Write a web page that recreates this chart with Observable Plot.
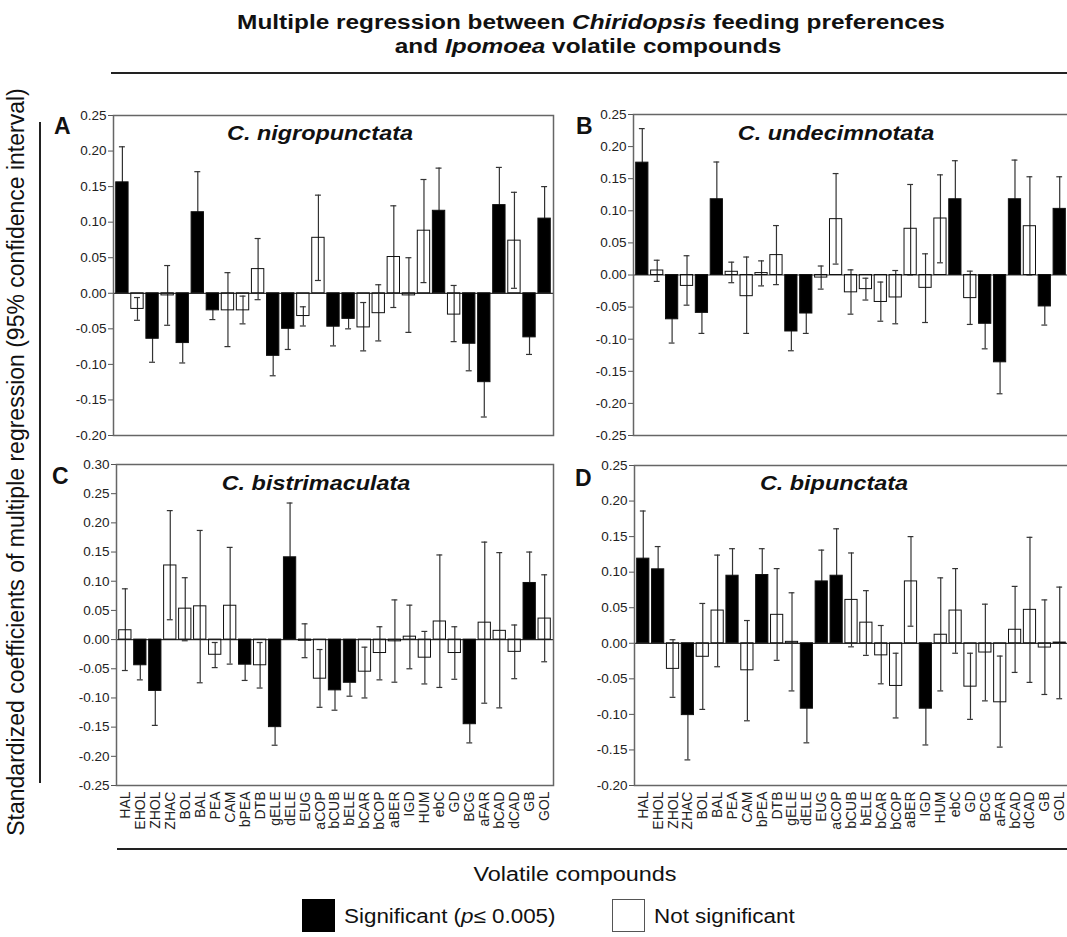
<!DOCTYPE html>
<html>
<head>
<meta charset="utf-8">
<script src="https://cdn.jsdelivr.net/npm/d3@7"></script>
<script src="https://cdn.jsdelivr.net/npm/@observablehq/plot@0.6"></script>
<style>
  html, body { margin: 0; padding: 0; background: #fff; overflow: hidden; }
  #root { position: relative; width: 1067px; height: 937px; overflow: hidden; background: #fff;
          font-family: "Liberation Sans", Arial, sans-serif; color: #111; }
  .abs { position: absolute; white-space: nowrap; line-height: 1; }
  .hline { position: absolute; background: #222; }
  .panel { position: absolute; }
  .panel svg { max-width: none !important; display: block; }
</style>
</head>
<body>
<div id="root"></div>
<script>
// ---- data ----
const compounds = ["HAL","EHOL","ZHOL","ZHAC","BOL","BAL","PEA","CAM","bPEA","DTB","gELE","dELE","EUG","aCOP","bCUB","bELE","bCAR","bCOP","aBER","IGD","HUM","ebC","GD","BCG","aFAR","bCAD","dCAD","GB","GOL"];

// A: C. nigropunctata
const coefA = [0.156,-0.022,-0.064,-0.003,-0.070,0.114,-0.024,-0.024,-0.024,0.034,-0.088,-0.050,-0.032,0.078,-0.047,-0.036,-0.048,-0.028,0.051,-0.003,0.088,0.116,-0.030,-0.071,-0.125,0.124,0.074,-0.062,0.105];
const hiA   = [0.206,-0.006,-0.031,0.039,-0.042,0.171,-0.010,0.029,-0.004,0.077,-0.060,-0.021,-0.019,0.138,-0.020,-0.022,-0.013,0.012,0.123,0.050,0.160,0.176,0.011,-0.033,-0.076,0.177,0.142,-0.038,0.150];
const loA   = [0.106,-0.038,-0.097,-0.045,-0.098,0.057,-0.037,-0.075,-0.043,-0.009,-0.116,-0.079,-0.046,0.018,-0.074,-0.050,-0.081,-0.067,-0.020,-0.055,0.015,0.056,-0.068,-0.109,-0.174,0.071,0.007,-0.086,0.060];
const sigA  = [1,0,1,0,1,1,1,0,0,0,1,1,0,0,1,1,0,0,0,0,0,1,0,1,1,1,0,1,1];

// B: C. undecimnotata
const coefB = [0.175,0.007,-0.069,-0.017,-0.059,0.118,0.005,-0.033,0.003,0.031,-0.088,-0.060,-0.004,0.087,-0.027,-0.022,-0.042,-0.035,0.072,-0.020,0.088,0.118,-0.036,-0.076,-0.136,0.118,0.076,-0.049,0.103];
const hiB   = [0.228,0.023,-0.032,0.030,-0.027,0.176,0.020,0.028,0.022,0.077,-0.058,-0.029,0.014,0.158,0.008,-0.005,-0.011,0.007,0.141,0.033,0.156,0.178,0.006,-0.037,-0.087,0.179,0.153,-0.020,0.153];
const loB   = [0.122,-0.010,-0.106,-0.047,-0.091,0.060,-0.012,-0.091,-0.017,-0.015,-0.118,-0.091,-0.022,0.017,-0.061,-0.039,-0.072,-0.076,0.000,-0.074,0.019,0.058,-0.077,-0.115,-0.185,0.057,0.000,-0.078,0.053];
const sigB  = [1,0,1,0,1,1,0,0,0,0,1,1,0,0,0,0,0,0,0,0,0,1,0,1,1,1,0,1,1];

// C: C. bistrimaculata
const coefC = [0.016,-0.044,-0.088,0.127,0.053,0.057,-0.026,0.058,-0.043,-0.044,-0.150,0.141,-0.002,-0.067,-0.087,-0.074,-0.055,-0.023,-0.003,0.005,-0.031,0.031,-0.023,-0.145,0.029,0.015,-0.021,0.097,0.036];
const hiC   = [0.087,-0.019,-0.029,0.221,0.106,0.187,-0.005,0.158,-0.016,-0.005,-0.119,0.234,0.027,-0.017,-0.053,-0.051,-0.013,0.022,0.068,0.059,0.014,0.145,0.022,-0.113,0.167,0.149,0.025,0.150,0.111];
const loC   = [-0.053,-0.069,-0.147,0.034,-0.002,-0.074,-0.048,-0.042,-0.070,-0.083,-0.181,0.048,-0.031,-0.116,-0.121,-0.097,-0.100,-0.069,-0.073,-0.050,-0.076,-0.082,-0.068,-0.177,-0.109,-0.117,-0.067,0.044,-0.038];
const sigC  = [0,1,1,0,0,0,0,0,1,0,1,1,0,0,1,1,0,0,0,0,0,0,0,1,0,0,0,1,0];

// D: C. bipunctata
const coefD = [0.119,0.104,-0.036,-0.101,-0.019,0.046,0.095,-0.038,0.096,0.040,0.002,-0.092,0.087,0.095,0.061,0.029,-0.017,-0.060,0.087,-0.092,0.012,0.046,-0.061,-0.013,-0.083,0.019,0.047,-0.006,0.001];
const hiD   = [0.186,0.136,0.005,-0.038,0.056,0.124,0.133,0.032,0.133,0.105,0.071,-0.044,0.131,0.161,0.127,0.074,0.025,-0.014,0.150,-0.041,0.092,0.105,-0.014,0.055,-0.018,0.080,0.149,0.061,0.079];
const loD   = [0.052,0.072,-0.076,-0.164,-0.093,-0.033,0.057,-0.109,0.059,-0.024,-0.067,-0.140,0.043,0.029,-0.005,-0.017,-0.057,-0.105,0.024,-0.143,-0.067,-0.014,-0.107,-0.081,-0.146,-0.041,-0.055,-0.072,-0.078];
const sigD  = [1,1,0,1,0,0,1,0,1,0,0,1,1,1,0,0,0,0,0,1,0,0,0,0,0,0,0,0,0];

const ticksA = [-0.20,-0.15,-0.10,-0.05,0.00,0.05,0.10,0.15,0.20,0.25];
const ticksB = [-0.25,-0.20,-0.15,-0.10,-0.05,0.00,0.05,0.10,0.15,0.20,0.25];
const ticksC = [-0.25,-0.20,-0.15,-0.10,-0.05,0.00,0.05,0.10,0.15,0.20,0.25,0.30];
const ticksD = [-0.20,-0.15,-0.10,-0.05,0.00,0.05,0.10,0.15,0.20,0.25];

const panelTitles = ["C. nigropunctata","C. undecimnotata","C. bistrimaculata","C. bipunctata"];
const panelLetters = ["A","B","C","D"];

// ---- drawing ----
const root = document.getElementById("root");
const FONT = "'Liberation Sans', Arial, sans-serif";

function panel(vals, lo, hi, sig, ticks, showX, dims) {
  const rows = compounds.map((c, i) => ({c, v: vals[i], lo: lo[i], hi: hi[i], s: sig[i]}));
  return Plot.plot({
    width: dims.w, height: dims.h,
    marginLeft: dims.ml, marginRight: dims.mr, marginTop: dims.mt, marginBottom: dims.mb,
    style: {fontFamily: FONT, fontSize: "13px", color: "#222", background: "transparent", overflow: "visible"},
    x: {domain: compounds, paddingInner: 0.18, paddingOuter: 0.18, round: false, axis: null},
    y: {domain: [ticks[0], ticks[ticks.length - 1]], axis: null},
    color: {type: "identity"},
    marks: [
      Plot.ruleY([0], {stroke: "#333", strokeWidth: 1.2}),
      Plot.ruleX(rows, {x: "c", y1: "lo", y2: "hi", stroke: "#333", strokeWidth: 1.2}),
      Plot.tickY(rows, {x: "c", y: "lo", insetLeft: 3.2, insetRight: 3.2, stroke: "#333", strokeWidth: 1.2}),
      Plot.tickY(rows, {x: "c", y: "hi", insetLeft: 3.2, insetRight: 3.2, stroke: "#333", strokeWidth: 1.2}),
      Plot.barY(rows, {x: "c", y1: 0, y2: "v", fill: d => d.s ? "black" : "none", stroke: "#111", strokeWidth: 1}),
      Plot.axisY({ticks: ticks, tickFormat: d => d.toFixed(2), tickSize: 5, tickPadding: 2, fontSize: 13.5, stroke: "#555", label: null}),
      showX ? Plot.axisX({tickRotate: -90, tickSize: 0, tickPadding: 6, fontSize: 14, label: null}) : null,
      Plot.frame({stroke: "#666", strokeWidth: 1.5})
    ]
  });
}

function place(el, left, top) {
  const d = document.createElement("div");
  d.className = "panel";
  d.style.left = left + "px";
  d.style.top = top + "px";
  d.appendChild(el);
  root.appendChild(d);
}

place(panel(coefA, loA, hiA, sigA, ticksA, false, {w: 500, h: 340, ml: 58, mr: 2, mt: 15, mb: 5}), 55, 100);
place(panel(coefB, loB, hiB, sigB, ticksB, false, {w: 493, h: 340, ml: 58, mr: 0, mt: 14, mb: 5}), 575, 100);
place(panel(coefC, loC, hiC, sigC, ticksC, true,  {w: 500, h: 395, ml: 61, mr: 2, mt: 14, mb: 60}), 55, 450);
place(panel(coefD, loD, hiD, sigD, ticksD, true,  {w: 493, h: 395, ml: 59, mr: 0, mt: 15, mb: 60}), 575, 450);

// text helper: x is the centre (center:true) or the left edge
function text(str, opts) {
  const d = document.createElement("div");
  d.className = "abs";
  d.innerHTML = str;
  d.style.left = opts.x + "px";
  d.style.top = opts.y + "px";
  d.style.fontSize = opts.size + "px";
  if (opts.bold) d.style.fontWeight = "bold";
  if (opts.italic) d.style.fontStyle = "italic";
  const sx = opts.sx || 1;
  if (opts.rotate) {
    d.style.transform = `translate(-50%,-50%) rotate(-90deg) scaleX(${sx})`;
  } else if (opts.center) {
    d.style.transform = `translateX(-50%) scaleX(${sx})`;
  } else {
    d.style.transformOrigin = "left center";
    d.style.transform = `scaleX(${sx})`;
  }
  root.appendChild(d);
  return d;
}
function line(x, y, w, h) {
  const d = document.createElement("div");
  d.className = "hline";
  d.style.left = x + "px"; d.style.top = y + "px";
  d.style.width = w + "px"; d.style.height = h + "px";
  root.appendChild(d);
}

// main title
text("Multiple regression between <i>Chiridopsis</i> feeding preferences", {x: 591, y: 12, size: 20, bold: true, center: true, sx: 1.22});
text("and <i>Ipomoea</i> volatile compounds", {x: 588, y: 36, size: 20, bold: true, center: true, sx: 1.22});
line(111, 72, 956, 2);

// y-axis label and its bar
text("Standardized coefficients of multiple regression (95% confidence interval)",
     {x: 16, y: 462, size: 23, rotate: true});
line(39, 122, 2, 661);

// panel letters
const letterPos = [[54, 115], [576, 115], [52, 465], [575, 467]];
panelLetters.forEach((L, i) => text(L, {x: letterPos[i][0], y: letterPos[i][1], size: 23, bold: true}));

// panel titles
const titlePos = [[320, 123], [836, 123], [316, 473], [834, 473]];
panelTitles.forEach((t, i) => text(t, {x: titlePos[i][0], y: titlePos[i][1], size: 20, bold: true, italic: true, center: true, sx: 1.17}));

// bottom rule, x title, legend
line(117, 848, 950, 2);
text("Volatile compounds", {x: 575, y: 864, size: 20, center: true, sx: 1.17});

const lg1 = document.createElement("div");
lg1.style.cssText = "position:absolute;left:302px;top:899px;width:33px;height:33px;background:#000;";
root.appendChild(lg1);
text("Significant (<i>p</i>≤ 0.005)", {x: 344, y: 906, size: 20, sx: 1.12});
const lg2 = document.createElement("div");
lg2.style.cssText = "position:absolute;left:612px;top:899px;width:33px;height:33px;background:#fff;border:1.5px solid #555;box-sizing:border-box;";
root.appendChild(lg2);
text("Not significant", {x: 654, y: 906, size: 20, sx: 1.12});
</script>
</body>
</html>
